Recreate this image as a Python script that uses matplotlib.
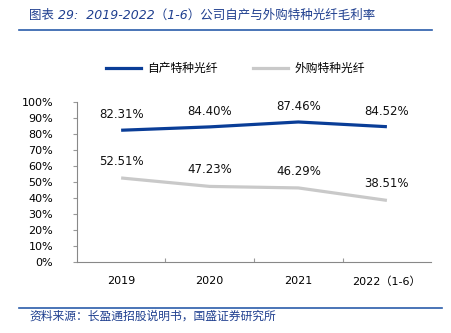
import matplotlib.pyplot as plt
from matplotlib.lines import Line2D

plt.rcParams['font.family'] = ['DejaVu Sans', 'Noto Sans CJK SC']

years = ['2019', '2020', '2021', '2022（1-6）']
own = [82.31, 84.40, 87.46, 84.52]
bought = [52.51, 47.23, 46.29, 38.51]
series_names = ['自产特种光纤', '外购特种光纤']
title = '图表 29:  2019-2022（1-6）公司自产与外购特种光纤毛利率'
source = '资料来源：长盈通招股说明书，国盛证券研究所'

blue = '#0a3d97'
gray = '#c9c9c9'
text_blue = '#1f3f8f'

fig = plt.figure(figsize=(4.52, 3.33), dpi=100)
ax = fig.add_axes([0.170, 0.213, 0.784, 0.481])

x = list(range(len(years)))
ax.plot(x, own, color=blue, lw=2.3, solid_capstyle='butt')
ax.plot(x, bought, color=gray, lw=2.3, solid_capstyle='butt')
for xi, v in zip(x, own):
    ax.annotate(f'{v:.2f}%', (xi, v), xytext=(0, 11), textcoords='offset points',
                ha='center', va='center', fontsize=8.5, color='#111111')
for xi, v in zip(x, bought):
    ax.annotate(f'{v:.2f}%', (xi, v), xytext=(0, 12), textcoords='offset points',
                ha='center', va='center', fontsize=8.5, color='#111111')

ax.set_xlim(-0.5, len(years) - 0.5)
ax.set_ylim(0, 100)
ax.set_yticks(range(0, 101, 10))
ax.set_yticklabels([f'{t}%' for t in range(0, 101, 10)], fontsize=8)
ax.set_xticks([i + 0.5 for i in range(len(years) - 1)], minor=False)
ax.set_xticklabels([])
ax.set_xticks(x, minor=True)
ax.set_xticklabels(years, minor=True, fontsize=8)
ax.tick_params(axis='x', which='major', length=3, direction='in', color='#999999')
ax.tick_params(axis='x', which='minor', length=0, pad=10)
ax.tick_params(axis='y', length=3, color='#999999', pad=14)
for s in ['top', 'right']:
    ax.spines[s].set_visible(False)
for s in ['left', 'bottom']:
    ax.spines[s].set_color('#888888')
    ax.spines[s].set_linewidth(0.8)

handles = [Line2D([], [], color=blue, lw=2.3), Line2D([], [], color=gray, lw=2.3)]
fig.legend(handles, series_names, loc='center', bbox_to_anchor=(0.52, 0.795), ncol=2,
           frameon=False, fontsize=8.5, handlelength=3.0, columnspacing=3.0, handletextpad=0.5)

fig.text(0.064, 0.955, title, fontsize=9, style='italic', color=text_blue, va='center')
fig.add_artist(Line2D([0.042, 0.956], [0.91, 0.91], color='#2a5caa', lw=1.2))
fig.add_artist(Line2D([0.042, 0.978], [0.076, 0.076], color='#2a5caa', lw=1.2))
fig.text(0.066, 0.05, source, fontsize=8.5, style='italic', color=text_blue, va='center')

fig.savefig('out.png', dpi=100)
